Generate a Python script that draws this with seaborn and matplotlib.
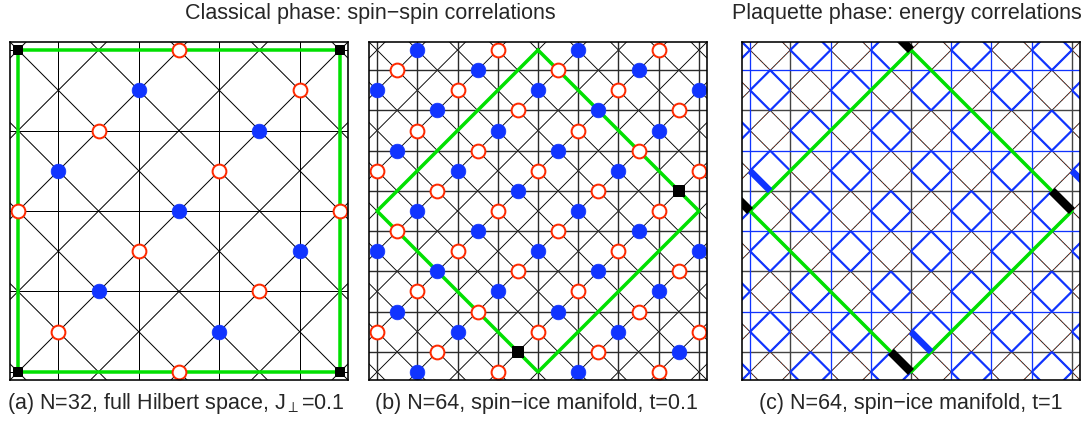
import numpy as np
import pandas as pd
import matplotlib
matplotlib.use("Agg")
import matplotlib.pyplot as plt
import seaborn as sns
from matplotlib.collections import LineCollection

sns.set_theme(style="white")
plt.rcParams["font.family"] = ["Liberation Sans", "DejaVu Sans"]
plt.rcParams["mathtext.fontset"] = "custom"
plt.rcParams["mathtext.rm"] = "Liberation Sans"
plt.rcParams["mathtext.it"] = "Liberation Sans:italic"

# ---------------- data ----------------
# panel (a): N=32 cluster (8x8 sites grid, i+j even)
a_red = [(4, 0), (7, 1), (2, 2), (5, 3), (0, 4), (8, 4), (3, 5), (6, 6), (1, 7), (4, 8)]
a_blue = [(3, 1), (6, 2), (1, 3), (4, 4), (7, 5), (2, 6), (5, 7)]
a_ref = [(0, 0), (8, 0), (0, 8), (8, 8)]
a_cluster = [(0, 0), (8, 0), (8, 8), (0, 8), (0, 0)]

# panel (b): N=64 cluster
b_blue = [(2, 0), (10, 0), (5, 1), (13, 1), (0, 2), (8, 2), (16, 2), (3, 3), (11, 3),
          (6, 4), (14, 4), (1, 5), (9, 5), (4, 6), (12, 6), (7, 7), (2, 8), (10, 8),
          (5, 9), (13, 9), (0, 10), (8, 10), (16, 10), (3, 11), (11, 11), (6, 12), (14, 12),
          (1, 13), (9, 13), (4, 14), (12, 14), (15, 15), (2, 16), (10, 16)]
b_red = [(6, 0), (14, 0), (1, 1), (9, 1), (4, 2), (12, 2), (7, 3), (15, 3), (2, 4), (10, 4),
         (5, 5), (13, 5), (0, 6), (8, 6), (16, 6), (3, 7), (11, 7), (6, 8), (14, 8),
         (1, 9), (9, 9), (4, 10), (12, 10), (7, 11), (15, 11), (2, 12), (10, 12),
         (5, 13), (13, 13), (0, 14), (8, 14), (16, 14), (3, 15), (11, 15), (6, 16), (14, 16)]
b_ref = [(15, 7), (7, 15)]
bc_cluster = [(8, 0), (16, 8), (8, 16), (0, 8), (8, 0)]

# panel (c): energy correlations
c_ref_bonds = [((7, 15), (8, 16)), ((15, 7), (16, 8)), ((7, -1), (8, 0)), ((-1, 7), (0, 8))]
c_strong_bonds = [((0, 6), (1, 7)), ((8, 14), (9, 15)), ((16, 6), (17, 7))]
c_plaq_rows = [-2, 0, 2, 4, 6, 8, 10, 12, 14, 16, 18]   # rows of resonating plaquettes
c_plaq_shift = [1, 3, 1, 3, 1, 3, 1, 3, 1, 3, 1]        # first column of blue plaquettes per row
c_hline_blue = [1, 5, 9, 13]                            # blue horizontal bond rows
c_hline_dark = [3, 7, 11, 15]
c_vline_blue = [0, 4, 6, 10, 12, 14]
c_vline_dark = [2, 8, 16]

titles = ["Classical phase: spin\u2212spin correlations", "Plaquette phase: energy correlations"]
captions = [r"(a) N=32, full Hilbert space, J$_{\perp}$=0.1",
            "(b) N=64, spin\u2212ice manifold, t=0.1",
            "(c) N=64, spin\u2212ice manifold, t=1"]

RED = "#ff2a00"
BLUE = "#1034ff"
GREEN = "#00e000"
PX = 0.72  # points per pixel

W, H = 1091, 428
fig = plt.figure(figsize=(W / 100, H / 100), dpi=100)


def add_ax(x0, y0, w, h):
    return fig.add_axes([x0 / W, 1 - (y0 + h) / H, w / W, h / H])


def setup(ax, L, pad):
    ax.set_xlim(-pad, L + pad)
    ax.set_ylim(L + pad, -pad)
    ax.set_xticks([])
    ax.set_yticks([])
    ax.set_xlabel("")
    ax.set_ylabel("")
    for s in ax.spines.values():
        s.set_visible(True)
        s.set_color("black")
        s.set_linewidth(1.6 * PX)
        s.set_zorder(20)


def diag_segments(L):
    segs = []
    for c in range(-L - 4, 2 * L + 6, 2):
        segs.append([(c - 6, -6), (c + L + 6, L + 6)])
        segs.append([(c + 6, -6), (c - L - 6, L + 6)])
    return segs


def hv_segments(L, vpar, hpar):
    segs = []
    for i in range(-2, L + 3):
        if i % 2 == vpar:
            segs.append([(i, -3), (i, L + 3)])
    for j in range(-2, L + 3):
        if j % 2 == hpar:
            segs.append([(-3, j), (L + 3, j)])
    return segs


def markers(ax, red, blue, ref, msize, sqsize):
    if blue:
        d = pd.DataFrame(blue, columns=["x", "y"])
        sns.scatterplot(data=d, x="x", y="y", ax=ax, color=BLUE, edgecolor=BLUE,
                        s=msize, linewidth=0.5, zorder=10, legend=False)
    if red:
        d = pd.DataFrame(red, columns=["x", "y"])
        sns.scatterplot(data=d, x="x", y="y", ax=ax, color="white", edgecolor=RED,
                        s=msize * 0.88, linewidth=2.0 * PX, zorder=10, legend=False)
    if ref:
        d = pd.DataFrame(ref, columns=["x", "y"])
        sns.scatterplot(data=d, x="x", y="y", ax=ax, color="black", edgecolor="black",
                        marker="s", s=sqsize, linewidth=0, zorder=11, legend=False)


# ---------------- panel (a) ----------------
axa = add_ax(10, 42, 338, 338)
setup(axa, 8, 0.2)
axa.add_collection(LineCollection(diag_segments(8), colors="black", linewidths=1.0 * PX, zorder=2))
axa.add_collection(LineCollection(hv_segments(8, 1, 0), colors="black", linewidths=1.0 * PX, zorder=2))
gx, gy = zip(*a_cluster)
axa.plot(gx, gy, color=GREEN, lw=3.5 * PX, zorder=5, solid_capstyle="butt")
markers(axa, a_red, a_blue, a_ref, 112, 60)
setup(axa, 8, 0.2)

# ---------------- panel (b) ----------------
axb = add_ax(369, 42, 338, 338)
setup(axb, 16, 0.4)
axb.add_collection(LineCollection(diag_segments(16), colors="black", linewidths=0.9 * PX, zorder=2))
axb.add_collection(LineCollection(hv_segments(16, 0, 1), colors="#2a2a2a", linewidths=1.4 * PX, zorder=2))
gx, gy = zip(*bc_cluster)
axb.plot(gx, gy, color=GREEN, lw=3.5 * PX, zorder=5)
markers(axb, b_red, b_blue, b_ref, 112, 75)
setup(axb, 16, 0.4)

# ---------------- panel (c) ----------------
axc = add_ax(742, 42, 338, 338)
setup(axc, 16, 0.4)
dsegs = diag_segments(16)
axc.add_collection(LineCollection(dsegs, colors="#1a1a1a", linewidths=0.9 * PX, zorder=2))
axc.add_collection(LineCollection(dsegs, colors=RED, linewidths=0.7 * PX, linestyles=(0, (1, 4)), zorder=2.1))

blue_edges = []
for J, s0 in zip(c_plaq_rows, c_plaq_shift):
    for I in range(s0 - 4, 21, 4):
        blue_edges += [[(I - 1, J), (I, J - 1)], [(I, J - 1), (I + 1, J)],
                       [(I + 1, J), (I, J + 1)], [(I, J + 1), (I - 1, J)]]
axc.add_collection(LineCollection(blue_edges, colors=BLUE, linewidths=2.2 * PX, zorder=3))

hb = [[(-3, j), (19, j)] for j in c_hline_blue]
hd = [[(-3, j), (19, j)] for j in c_hline_dark]
vb = [[(i, -3), (i, 19)] for i in c_vline_blue]
vd = [[(i, -3), (i, 19)] for i in c_vline_dark]
axc.add_collection(LineCollection(hd + vd, colors="#444444", linewidths=1.4 * PX, zorder=2.5))
axc.add_collection(LineCollection(hb + vb, colors=BLUE, linewidths=1.3 * PX, zorder=2.6))

gx, gy = zip(*bc_cluster)
axc.plot(gx, gy, color=GREEN, lw=3.5 * PX, zorder=4)
axc.add_collection(LineCollection([list(b) for b in c_strong_bonds], colors=BLUE,
                                  linewidths=6.5 * PX, zorder=6, capstyle="butt"))
axc.add_collection(LineCollection([list(b) for b in c_ref_bonds], colors="black",
                                  linewidths=8.5 * PX, zorder=7, capstyle="butt"))
setup(axc, 16, 0.4)

# ---------------- texts ----------------
fs = 15.5
fig.text(370 / W, 1 - 13 / H, titles[0], ha="center", va="center", fontsize=fs)
fig.text(907 / W, 1 - 13 / H, titles[1], ha="center", va="center", fontsize=fs)
for xc, cap in zip([176, 536, 911], captions):
    fig.text(xc / W, 1 - 404 / H, cap, ha="center", va="center", fontsize=fs)

fig.savefig("out.png", dpi=100)
